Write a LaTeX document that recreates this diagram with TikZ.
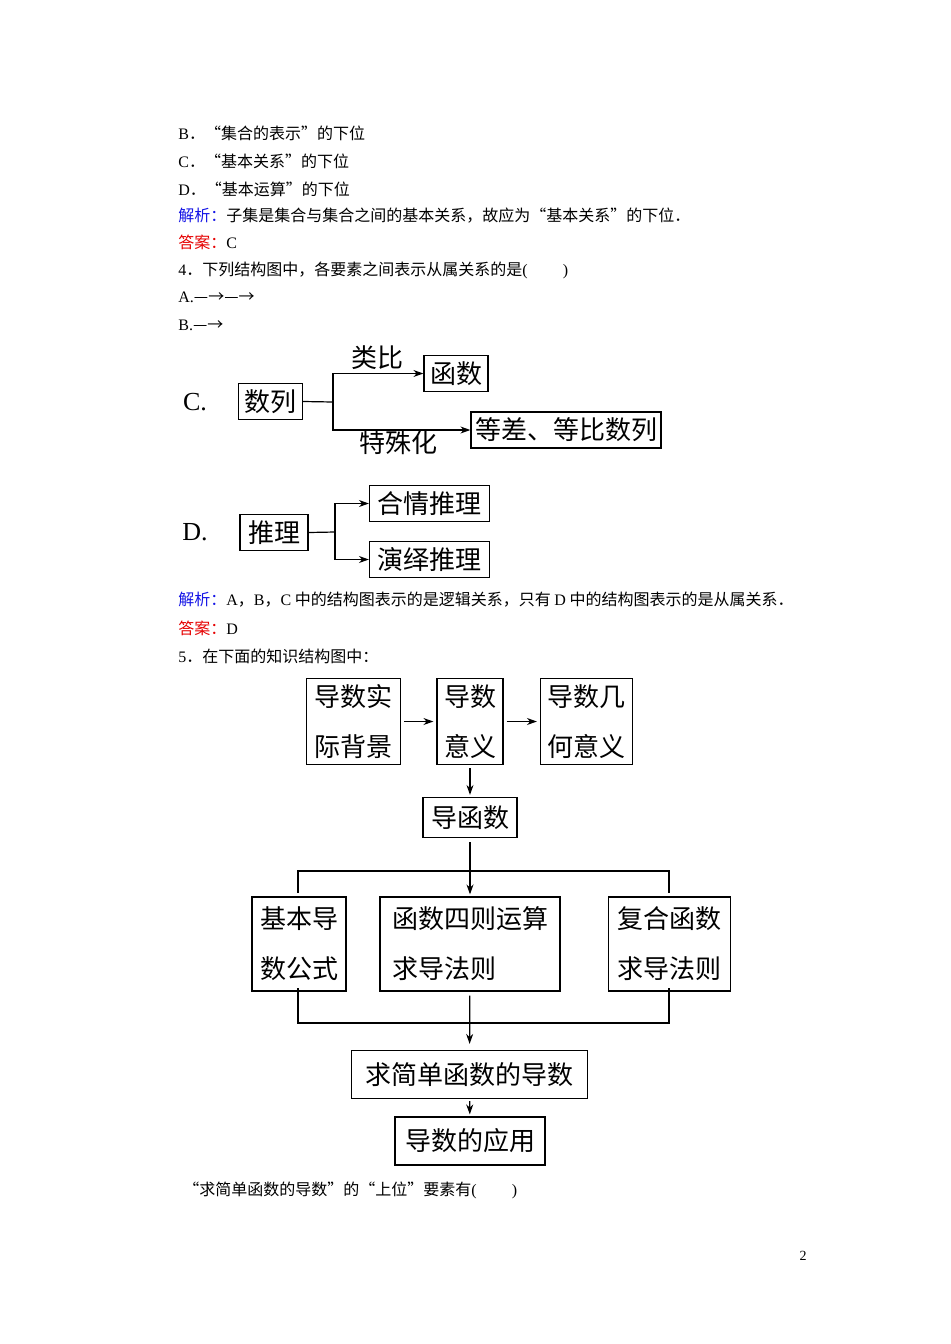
\documentclass[tikz,border=0pt]{standalone}
\usepackage{fontspec}
\setmainfont{Liberation Serif}
\newfontfamily\cjk{Noto Sans CJK SC}
\usetikzlibrary{arrows.meta}
\definecolor{jxblue}{RGB}{20,20,230}
\definecolor{darred}{RGB}{230,0,0}
\newcommand{\lt}[1]{{\rmfamily #1}}
\tikzset{
  line/.style={anchor=west, inner sep=0pt, font=\cjk\fontsize{8}{10}\selectfont},
  box/.style={draw, semithick, inner sep=1pt, font=\cjk\fontsize{13}{25}\selectfont, align=left},
  arr/.style={-{Stealth[length=5pt,width=3.5pt]}, semithick},
  lab/.style={inner sep=0pt, font=\cjk\fontsize{13}{15}\selectfont},
}
\begin{document}
\begin{tikzpicture}[x=0.5pt, y=-0.5pt]
    \useasboundingbox[fill=white] (0,0) rectangle (950,1344);

    % question text
    \node[line] (tb) at (178,133) {\lt{B}．“集合的表示”的下位};
    \node[line] (tc) at (178,161) {\lt{C}．“基本关系”的下位};
    \node[line] (td) at (178,189) {\lt{D}．“基本运算”的下位};
    \node[line] (jx1) at (178,216) {\textcolor{jxblue}{解析：}子集是集合与集合之间的基本关系，故应为“基本关系”的下位．};
    \node[line] (da1) at (178,242) {\textcolor{darred}{答案：}\lt{C}};
    \node[line] (q4) at (178,270) {\lt{4}．下列结构图中，各要素之间表示从属关系的是\lt{(}\hspace{2.2em}\lt{)}};
    \node[line] (qa) at (178,297) {\lt{A.}—→—→};
    \node[line] (qb) at (178,325) {\lt{B.}—→};

    % diagram C
    \node[inner sep=0pt, font=\fontsize{13}{15}\selectfont] (cl) at (195,402) {C.};
    \node[box, minimum width=32pt, minimum height=18pt] (sl) at (270.5,401.5) {数列};
    \node[box, minimum width=32pt, minimum height=18pt] (hs) at (456,373.5) {函数};
    \node[box, minimum width=95pt, minimum height=18pt] (dc) at (566,430) {等差、等比数列};
    \coordinate (cj) at (333,402);
    \draw[semithick] (sl.east) -- (cj);
    \draw[arr] (cj) |- (hs.west);
    \draw[arr] (cj) |- (dc.west);
    \node[lab] (lb) at (377,358) {类比};
    \node[lab] (tsh) at (398,443) {特殊化};

    % diagram D
    \node[inner sep=0pt, font=\fontsize{13}{15}\selectfont] (dl) at (195,532) {D.};
    \node[box, minimum width=34pt, minimum height=18pt] (tl) at (274,532.5) {推理};
    \node[box, minimum width=60pt, minimum height=18pt] (hq) at (429.5,503.5) {合情推理};
    \node[box, minimum width=60pt, minimum height=18pt] (yy) at (429.5,559.5) {演绎推理};
    \coordinate (dj) at (335,532);
    \draw[semithick] (tl.east) -- (dj);
    \draw[arr] (dj) |- (hq.west);
    \draw[arr] (dj) |- (yy.west);

    \node[line] (jx2) at (178,600) {\textcolor{jxblue}{解析：}\lt{A}，\lt{B}，\lt{C} 中的结构图表示的是逻辑关系，只有 \lt{D} 中的结构图表示的是从属关系．};
    \node[line] (da2) at (178,628) {\textcolor{darred}{答案：}\lt{D}};
    \node[line] (q5) at (178,656) {\lt{5}．在下面的知识结构图中：};

    % knowledge structure
    \node[box, minimum width=47pt, minimum height=43pt] (bj) at (353.5,721.5) {导数实\\际背景};
    \node[box, minimum width=33pt, minimum height=43pt] (yi) at (470,721.5) {导数\\意义};
    \node[box, minimum width=46pt, minimum height=43pt] (jh) at (586.5,721.5) {导数几\\何意义};
    \draw[arr, shorten <=1.5pt, shorten >=1.5pt] (bj) -- (yi);
    \draw[arr, shorten <=1.5pt, shorten >=1.5pt] (yi) -- (jh);
    \node[box, minimum width=47pt, minimum height=20pt] (dhs) at (470,817.5) {导函数};
    \draw[arr, shorten <=1.5pt, shorten >=1pt] (yi) -- (dhs);

    \node[box, minimum width=47pt, minimum height=47pt] (jb) at (299,944) {基本导\\数公式};
    \node[box, minimum width=90pt, minimum height=47pt] (sz) at (470,944) {函数四则运算\\求导法则};
    \node[box, minimum width=61pt, minimum height=47pt] (fh) at (669.5,944) {复合函数\\求导法则};
    \coordinate (tl1) at (298,871);
    \coordinate (tr1) at (669,871);
    \draw[semithick] (298,893) -- (tl1) -- (tr1) -- (669,893);
    \draw[arr, shorten <=2pt, shorten >=1pt] (dhs) -- (sz);

    \node[box, minimum width=118pt, minimum height=24pt] (qj) at (469.5,1074.5) {求简单函数的导数};
    \coordinate (bl1) at (298,1023);
    \coordinate (br1) at (669,1023);
    \draw[semithick] (298,988) -- (bl1) -- (br1) -- (669,988);
    \draw[arr, shorten <=2pt, shorten >=3pt] (sz) -- (qj);
    \node[box, minimum width=75pt, minimum height=24pt] (yy2) at (470,1141) {导数的应用};
    \draw[arr, shorten <=1pt, shorten >=1pt] (qj) -- (yy2);

    \node[line] (q6) at (183,1190) {“求简单函数的导数”的“上位”要素有\lt{(}\hspace{2.2em}\lt{)}};
    \node[inner sep=0pt, font=\fontsize{7}{8}\selectfont] (pg) at (803,1256) {2};
\end{tikzpicture}
\end{document}
